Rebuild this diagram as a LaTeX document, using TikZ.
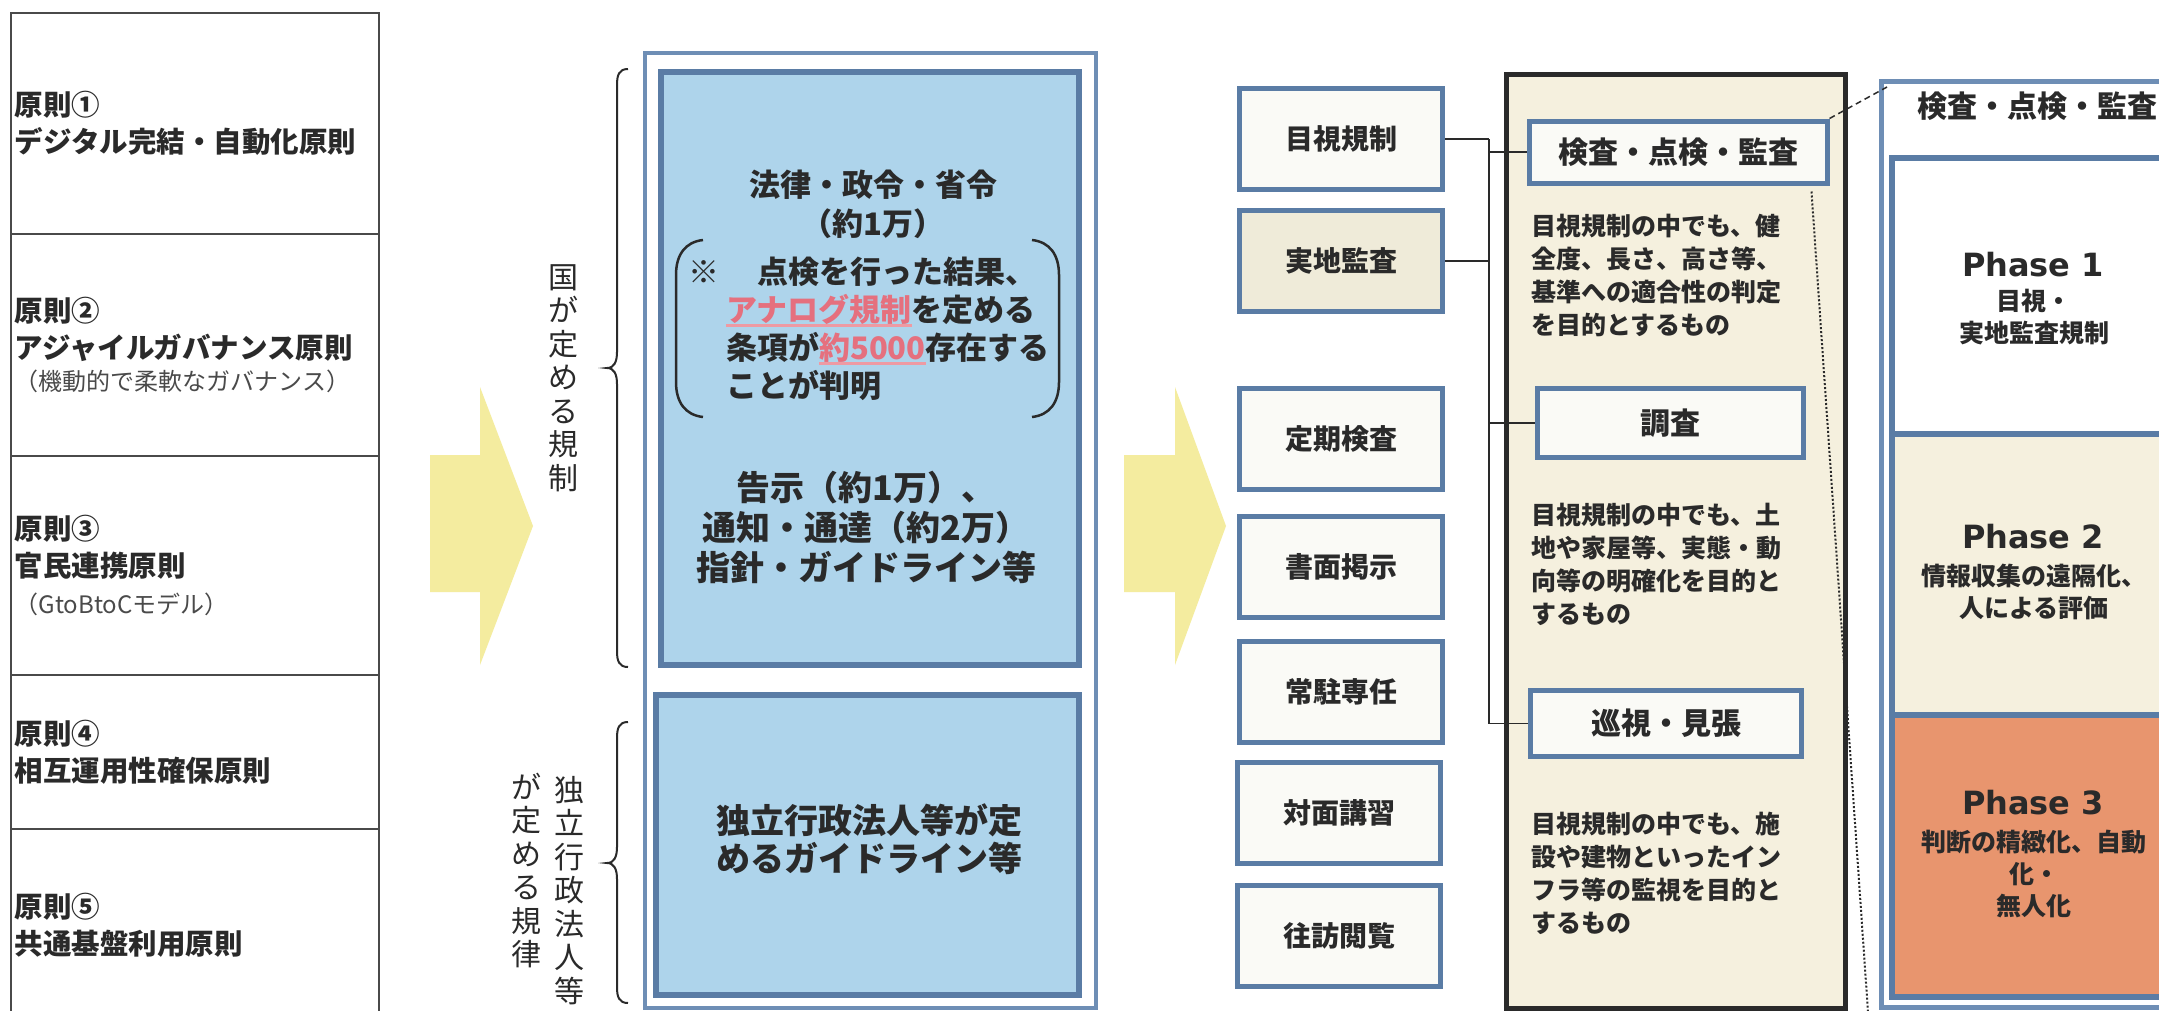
\documentclass[tikz,border=0pt]{standalone}
\usepackage{fontspec}
\setmainfont{Noto Sans CJK JP}
\newfontfamily\phasefont{DejaVu Sans}
\usetikzlibrary{calc}
\definecolor{frameblue}{HTML}{6E8EB5}
\definecolor{boxblue}{HTML}{5A7CA5}
\definecolor{lightblue}{HTML}{AED4EB}
\definecolor{beige}{HTML}{F5F0DE}
\definecolor{beigetwo}{HTML}{EFEBD9}
\definecolor{offwhite}{HTML}{FAFAF6}
\definecolor{salmon}{HTML}{E8956E}
\definecolor{arrowyellow}{HTML}{F4EC9F}
\definecolor{ink}{HTML}{2A2A2A}
\definecolor{greyink}{HTML}{4A4A4A}
\definecolor{redtext}{HTML}{E5707E}
\definecolor{redline}{HTML}{EE9AA3}
\definecolor{linegrey}{HTML}{4A4A4A}
\newcommand\redmark[1]{\setbox0=\hbox{\textcolor{redtext}{#1}}\rlap{\textcolor{redline}{\rule[-5pt]{\wd0}{2.5pt}}}\box0}
\begin{document}
\begin{tikzpicture}[x=1pt,y=-1pt,
  rowbox/.style={draw=linegrey, line width=1.5, minimum width=368, text width=360, align=left,
    inner sep=4, anchor=north west, text=ink, font=\fontsize{28.5}{37}\selectfont\bfseries},
  vtext/.style={align=center, inner sep=0, text=ink, font=\fontsize{30}{33.5}\selectfont},
  bracestyle/.style={draw=ink, line width=2},
  bluebox/.style={draw=boxblue, line width=6, fill=lightblue, anchor=north west},
  midtext/.style={align=center, inner sep=0, text=ink, font=\fontsize{31}{39}\selectfont\bfseries},
  bigtext/.style={align=center, inner sep=0, text=ink, font=\fontsize{34}{40}\selectfont\bfseries},
  smallbox/.style={draw=boxblue, line width=5, fill=offwhite, minimum width=203, minimum height=101,
    inner sep=0, text=ink, font=\fontsize{28}{34}\selectfont\bfseries},
  innerbox/.style={draw=boxblue, line width=5, fill=offwhite, inner sep=0, text=ink,
    font=\fontsize{30}{34}\selectfont\bfseries},
  desc/.style={align=left, inner sep=0, anchor=west, text=ink, font=\fontsize{25}{33}\selectfont\bfseries},
  conn/.style={draw=ink, line width=1.5},
  phasebox/.style={draw=boxblue, line width=6, anchor=north west, minimum width=300},
  phasetitle/.style={inner sep=0, text=ink, font=\phasefont\fontsize{32}{36}\selectfont\bfseries},
  phasesub/.style={align=center, inner sep=0, text=ink, font=\fontsize{25}{32}\selectfont\bfseries}
]
\path[use as bounding box] (0,0) rectangle (2159,1010);
\clip (0,0) rectangle (2159,1010);
\fill[white] (0,0) rectangle (2159,1010);

% ---------- left column ----------
\node[rowbox, minimum height=221] (p1) at (10,12) {原則①\\デジタル完結・自動化原則};
\node[rowbox, minimum height=222] (p2) at (10,233) {原則②\\アジャイルガバナンス原則\\[-5pt]{\fontsize{24}{30}\selectfont\mdseries\color{greyink}（機動的で柔軟なガバナンス）}};
\node[rowbox, minimum height=219] (p3) at (10,455) {原則③\\官民連携原則\\{\fontsize{24}{30}\selectfont\mdseries\color{greyink}（GtoBtoCモデル）}};
\node[rowbox, minimum height=154] (p4) at (10,674) {原則④\\相互運用性確保原則};
\node[rowbox, minimum height=192] (p5) at (10,828) {原則⑤\\共通基盤利用原則};

% ---------- arrow 1 ----------
\fill[arrowyellow] (430,455) -- (480,455) -- (480,387) -- (533,526) -- (480,665) -- (480,592) -- (430,592) -- cycle;

% ---------- braces and vertical labels ----------
\draw[bracestyle] (628,69) .. controls (619,69) and (617,75) .. (617,85) -- (617,352)
  .. controls (617,362) and (614,368) .. (607,368) .. controls (614,368) and (617,374) .. (617,384)
  -- (617,651) .. controls (617,661) and (619,667) .. (628,667);
\draw[bracestyle] (628,722) .. controls (619,722) and (617,728) .. (617,738) -- (617,847)
  .. controls (617,857) and (614,863) .. (607,863) .. controls (614,863) and (617,869) .. (617,879)
  -- (617,987) .. controls (617,997) and (619,1003) .. (628,1003);
\node[vtext] (kuni) at (563,378) {国\\が\\定\\め\\る\\規\\制};
\node[vtext] (dokuA) at (569,890.5) {独\\立\\行\\政\\法\\人\\等};
\node[vtext] (dokuB) at (526,870.5) {が\\定\\め\\る\\規\\律};

% ---------- middle frame ----------
\node[draw=frameblue, line width=4, fill=white, minimum width=451, minimum height=955, anchor=north west] (midframe) at (643,51) {};
\node[bluebox, minimum width=418, minimum height=593] (govbox) at (658,69) {};
\node[bluebox, minimum width=423, minimum height=300] (indbox) at (653,692) {};
\node[midtext] (laws) at (873,204) {法律・政令・省令\\（約1万）};
\node[midtext] (kome) at (704,272) {※};
\node[midtext, align=left, anchor=west, font=\fontsize{31}{38}\selectfont\bfseries] (note) at (726,329)
  {　点検を行った結果、\\\redmark{アナログ規制}を定める\\条項が\redmark{約5000}存在する\\ことが判明};
\draw[draw=ink, line width=2.5] (703,240) .. controls (685,242) and (676,255) .. (676,275) -- (676,382)
  .. controls (676,402) and (685,415) .. (703,417);
\draw[draw=ink, line width=2.5] (1032,240) .. controls (1050,242) and (1059,255) .. (1059,275) -- (1059,382)
  .. controls (1059,402) and (1050,415) .. (1032,417);
\node[bigtext] (notices) at (866,527) {告示（約1万）、\\通知・通達（約2万）\\指針・ガイドライン等};
\node[bigtext, font=\fontsize{34}{38}\selectfont\bfseries] (indtext) at (869,839) {独立行政法人等が定\\めるガイドライン等};

% ---------- arrow 2 ----------
\fill[arrowyellow] (1124,455) -- (1175,455) -- (1175,387) -- (1226,526) -- (1175,665) -- (1175,592) -- (1124,592) -- cycle;

% ---------- regulation type boxes ----------
\node[smallbox] (mokushi) at (1341,139) {目視規制};
\node[smallbox, fill=beigetwo] (jicchi) at (1341,261) {実地監査};
\node[smallbox] (teiki) at (1341,439) {定期検査};
\node[smallbox] (shomen) at (1341,567) {書面掲示};
\node[smallbox] (jochu) at (1341,692) {常駐専任};
\node[smallbox] (taimen) at (1339,813) {対面講習};
\node[smallbox] (ohou) at (1339,936) {往訪閲覧};

% ---------- beige panel ----------
\node[draw=ink, line width=5, fill=beige, minimum width=339, minimum height=934, anchor=north west] (panel) at (1504,72) {};
\node[innerbox, minimum width=298, minimum height=62] (kensa) at (1678,152) {検査・点検・監査};
\node[innerbox, minimum width=266, minimum height=69] (chousa) at (1670.5,423) {調査};
\node[innerbox, minimum width=271, minimum height=66] (junshi) at (1666,723.5) {巡視・見張};
\node[desc] (d1) at (1531,275) {目視規制の中でも、健\\全度、長さ、高さ等、\\基準への適合性の判定\\を目的とするもの};
\node[desc] (d2) at (1531,564) {目視規制の中でも、土\\地や家屋等、実態・動\\向等の明確化を目的と\\するもの};
\node[desc] (d3) at (1531,873) {目視規制の中でも、施\\設や建物といったイン\\フラ等の監視を目的と\\するもの};

% ---------- connectors ----------
\coordinate (busTop) at (1489,139);
\coordinate (busBot) at (1489,723.5);
\draw[conn] (mokushi.east) -- (mokushi.east -| busTop);
\draw[conn] (jicchi.east) -- (jicchi.east -| busTop);
\draw[conn] (busTop) -- (busBot);
\draw[conn] (busTop |- kensa.west) -- (kensa.west);
\draw[conn] (busTop |- chousa.west) -- (chousa.west);
\draw[conn] (busBot) -- (junshi.west);

% ---------- right panel ----------
\node[draw=frameblue, line width=5, fill=white, minimum width=330, minimum height=926, anchor=north west] (rframe) at (1878.5,78.5) {};
\node[inner sep=0, text=ink, font=\fontsize{30}{34}\selectfont\bfseries] (rtitle) at (2037,106) {検査・点検・監査};
\node[phasebox, fill=white, minimum height=276] (ph1box) at (1889,155) {};
\node[phasebox, fill=beige, minimum height=281] (ph2box) at (1889,431) {};
\node[phasebox, fill=salmon, minimum height=282] (ph3box) at (1889,712) {};
\node[phasetitle] (ph1) at (2033,265) {Phase 1};
\node[phasesub] (ph1s) at (2034,317) {目視・\\実地監査規制};
\node[phasetitle] (ph2) at (2033,537) {Phase 2};
\node[phasesub] (ph2s) at (2034,592) {情報収集の遠隔化、\\人による評価};
\node[phasetitle] (ph3) at (2033,803) {Phase 3};
\node[phasesub] (ph3s) at (2034,874) {判断の精緻化、自動\\化・\\無人化};

% ---------- zoom lines ----------
\coordinate (dashend) at (1887,87);
\coordinate (dotend) at (1868,1012);
\draw[draw=ink, line width=1.5, dash pattern=on 6pt off 4pt] (kensa.north east) -- (dashend);
\draw[draw=ink, line width=2, dash pattern=on 2pt off 2pt] ($(kensa.south east)+(-18,6)$) -- (dotend);
\end{tikzpicture}
\end{document}
